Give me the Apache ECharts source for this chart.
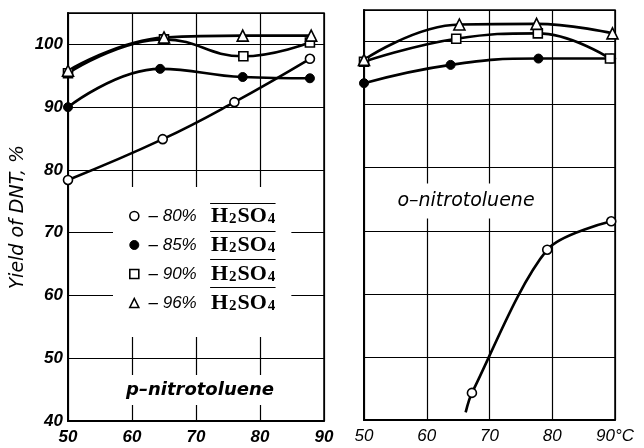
<!DOCTYPE html>
<html><head><meta charset="utf-8">
<script src="https://cdn.jsdelivr.net/npm/echarts@6/dist/echarts.min.js"></script>
<style>html,body{margin:0;padding:0;background:#fff}#c{width:644px;height:448px}</style>
</head><body><div id="c"></div>
<script>
// ---- axes ----
const xTicks = [50, 60, 70, 80, 90];
const yTicks = [40, 50, 60, 70, 80, 90, 100];
const yTop = 105;
const yAxisTitle = 'Yield of DNT, %';
const leftPanelLabel = 'p\u2013nitrotoluene';
const rightPanelLabel = 'o\u2013nitrotoluene';
const acidNames = ['80%', '85%', '90%', '96%'];
const acidFormulaParts = [['H', 'h'], ['2', 's'], ['SO', 'h'], ['4', 's']]; // H2SO4

// ---- p-nitrotoluene (left panel) ----
const p80X = [50, 64.8, 76.0, 87.8];
const p80Y = [78.4, 84.9, 90.8, 97.7];
const p85X = [50, 64.4, 77.3, 87.8];
const p85Y = [90.0, 96.1, 94.8, 94.6];
const p90X = [50, 65.0, 77.4, 87.8];
const p90Y = [95.4, 100.8, 98.1, 100.3];
const p96X = [50, 65.0, 77.3, 88.0];
const p96Y = [95.8, 101.1, 101.4, 101.4];

// ---- o-nitrotoluene (right panel) ----
const o80Tail = [66.2, 41.2];          // curve start below first marker (no marker)
const o80X = [67.2, 79.2, 89.4];
const o80Y = [44.3, 67.0, 71.5];
const o85X = [50, 63.8, 77.8, 89.4];
const o85Y = [93.4, 96.3, 97.3, 97.3];
const o90X = [50, 64.7, 77.7, 89.2];
const o90Y = [96.8, 100.45, 101.3, 97.3];
const o96X = [50, 65.2, 77.5, 89.6];
const o96Y = [97.1, 102.7, 102.8, 101.3];

const zip = (xs, ys) => xs.map((x, i) => [x, ys[i]]);

const markerStyle = {
  '80%': { symbol: 'circle', symbolSize: 9, itemStyle: { color: '#fff', borderColor: '#000', borderWidth: 1.6 } },
  '85%': { symbol: 'circle', symbolSize: 9, itemStyle: { color: '#000', borderColor: '#000', borderWidth: 1 } },
  '90%': { symbol: 'rect', symbolSize: 9, itemStyle: { color: '#fff', borderColor: '#000', borderWidth: 1.6 } },
  '96%': { symbol: 'triangle', symbolSize: 11, itemStyle: { color: '#fff', borderColor: '#000', borderWidth: 1.6 } }
};

function mk(name, idx, data, smooth) {
  const m = markerStyle[name];
  return {
    name: name, type: 'line', xAxisIndex: idx, yAxisIndex: idx,
    data: data, smooth: smooth || 0.45,
    symbol: m.symbol, symbolSize: m.symbolSize, itemStyle: m.itemStyle,
    showAllSymbol: true,
    lineStyle: { color: '#000', width: 2.6 },
    emphasis: { disabled: true }, animation: false, z: 3
  };
}

const o80Data = [{ value: o80Tail, symbol: 'none' }].concat(zip(o80X, o80Y));

const series = [
  mk('80%', 0, zip(p80X, p80Y)),
  mk('85%', 0, zip(p85X, p85Y)),
  mk('90%', 0, zip(p90X, p90Y)),
  mk('96%', 0, zip(p96X, p96Y)),
  mk('80%', 1, o80Data, 0.3),
  mk('85%', 1, zip(o85X, o85Y)),
  mk('90%', 1, zip(o90X, o90Y)),
  mk('96%', 1, zip(o96X, o96Y))
];

const tickFontLeft = { fontFamily: 'Liberation Sans', fontStyle: 'italic', fontWeight: 'bold', fontSize: 17, color: '#000' };
const tickFontRight = { fontFamily: 'Liberation Sans', fontStyle: 'italic', fontWeight: 'normal', fontSize: 17, color: '#000' };

function xAx(idx, font, last) {
  return {
    type: 'value', gridIndex: idx, min: xTicks[0], max: xTicks[xTicks.length - 1], interval: xTicks[1] - xTicks[0],
    axisLine: { show: true, lineStyle: { color: '#000', width: 2 } },
    axisTick: { show: false },
    splitLine: { show: true, lineStyle: { color: '#000', width: 1.2 } },
    axisLabel: Object.assign({ margin: 8, formatter: v => (v === xTicks[xTicks.length - 1] && last) ? v + last : String(v) }, font)
  };
}
function yAx(idx, font, showLabels) {
  return {
    type: 'value', gridIndex: idx, min: yTicks[0], max: yTop, interval: yTicks[1] - yTicks[0],
    axisLine: { show: true, lineStyle: { color: '#000', width: 2 } },
    axisTick: { show: false },
    splitLine: { show: true, lineStyle: { color: '#000', width: 1.2 } },
    axisLabel: Object.assign({ show: showLabels, margin: 5, formatter: v => (yTicks.indexOf(v) >= 0 ? String(v) : '') }, font),
    name: showLabels ? yAxisTitle : '', nameLocation: 'middle', nameGap: 40, nameRotate: 90,
    nameTextStyle: { fontFamily: 'DejaVu Sans', fontStyle: 'italic', fontSize: 19, color: '#000' }
  };
}

// legend geometry
const LG = { left: 113, top: 187, padL: 16, padT: 18, padR: 15, padB: 23, icon: 9, gap: 7, lh: 21 };
const dFontCss = 'italic 17px "Liberation Sans"';
const hFontCss = 'bold 22px "Liberation Serif"';
const sFontCss = 'bold 15px "Liberation Serif"';
const sPadX = 1;
const legendText = n => ' \u2013 ' + n + '   ';

const ctx = document.createElement('canvas').getContext('2d');
function tw(font, s) { ctx.font = font; return ctx.measureText(s).width; }

const formulaWidth = acidFormulaParts.reduce((a, p) => a + (p[1] === 'h' ? tw(hFontCss, p[0]) : tw(sFontCss, p[0]) + 2 * sPadX), 0);
const overlines = acidNames.map((n, i) => {
  const x0 = LG.left + LG.padL + LG.icon + 5 + tw(dFontCss, legendText(n));
  const yc = LG.top + LG.padT + LG.lh / 2 + i * (LG.lh + LG.gap);
  return { type: 'line', z: 20, shape: { x1: x0, y1: yc - 12, x2: x0 + formulaWidth, y2: yc - 12 }, style: { stroke: '#000', lineWidth: 1.2 } };
});

const option = {
  animation: false,
  backgroundColor: '#fff',
  grid: [
    { left: 68, right: 320, top: 13, bottom: 27, show: true, borderColor: '#000', borderWidth: 1.5 },
    { left: 364, right: 29, top: 10, bottom: 28, show: true, borderColor: '#000', borderWidth: 1.5 }
  ],
  xAxis: [xAx(0, tickFontLeft, ''), xAx(1, tickFontRight, '\u00b0C')],
  yAxis: [yAx(0, tickFontLeft, true), yAx(1, tickFontRight, false)],
  legend: {
    orient: 'vertical', left: LG.left, top: LG.top,
    padding: [LG.padT, LG.padR, LG.padB, LG.padL],
    itemWidth: LG.icon, itemHeight: LG.icon, itemGap: LG.gap,
    backgroundColor: '#fff', selectedMode: false, z: 10,
    data: acidNames.map(n => ({ name: n, icon: markerStyle[n].symbol, itemStyle: markerStyle[n].itemStyle })),
    formatter: n => '{d|' + legendText(n) + '}' + acidFormulaParts.map(p => '{' + p[1] + '|' + p[0] + '}').join(''),
    textStyle: {
      color: '#000',
      rich: {
        d: { fontFamily: 'Liberation Sans', fontStyle: 'italic', fontSize: 17, lineHeight: LG.lh, color: '#000' },
        h: { fontFamily: 'Liberation Serif', fontWeight: 'bold', fontSize: 22, lineHeight: LG.lh, color: '#000' },
        s: { fontFamily: 'Liberation Serif', fontWeight: 'bold', fontSize: 15, lineHeight: LG.lh, padding: [6, sPadX, 0, sPadX], color: '#000' }
      }
    }
  },
  graphic: [
    { type: 'text', z: 20, x: 200, y: 390, style: { text: leftPanelLabel, font: 'italic bold 18px "DejaVu Sans"', fill: '#000', align: 'center', verticalAlign: 'middle', backgroundColor: '#fff', padding: [6, 8] } },
    { type: 'text', z: 20, x: 466, y: 201, style: { text: rightPanelLabel, font: 'italic 19px "DejaVu Sans"', fill: '#000', align: 'center', verticalAlign: 'middle', backgroundColor: '#fff', padding: [8, 8] } }
  ].concat(overlines),
  series: series
};

const chart = echarts.init(document.getElementById('c'), null, { renderer: 'canvas' });
chart.setOption(option);
</script>
</body></html>
